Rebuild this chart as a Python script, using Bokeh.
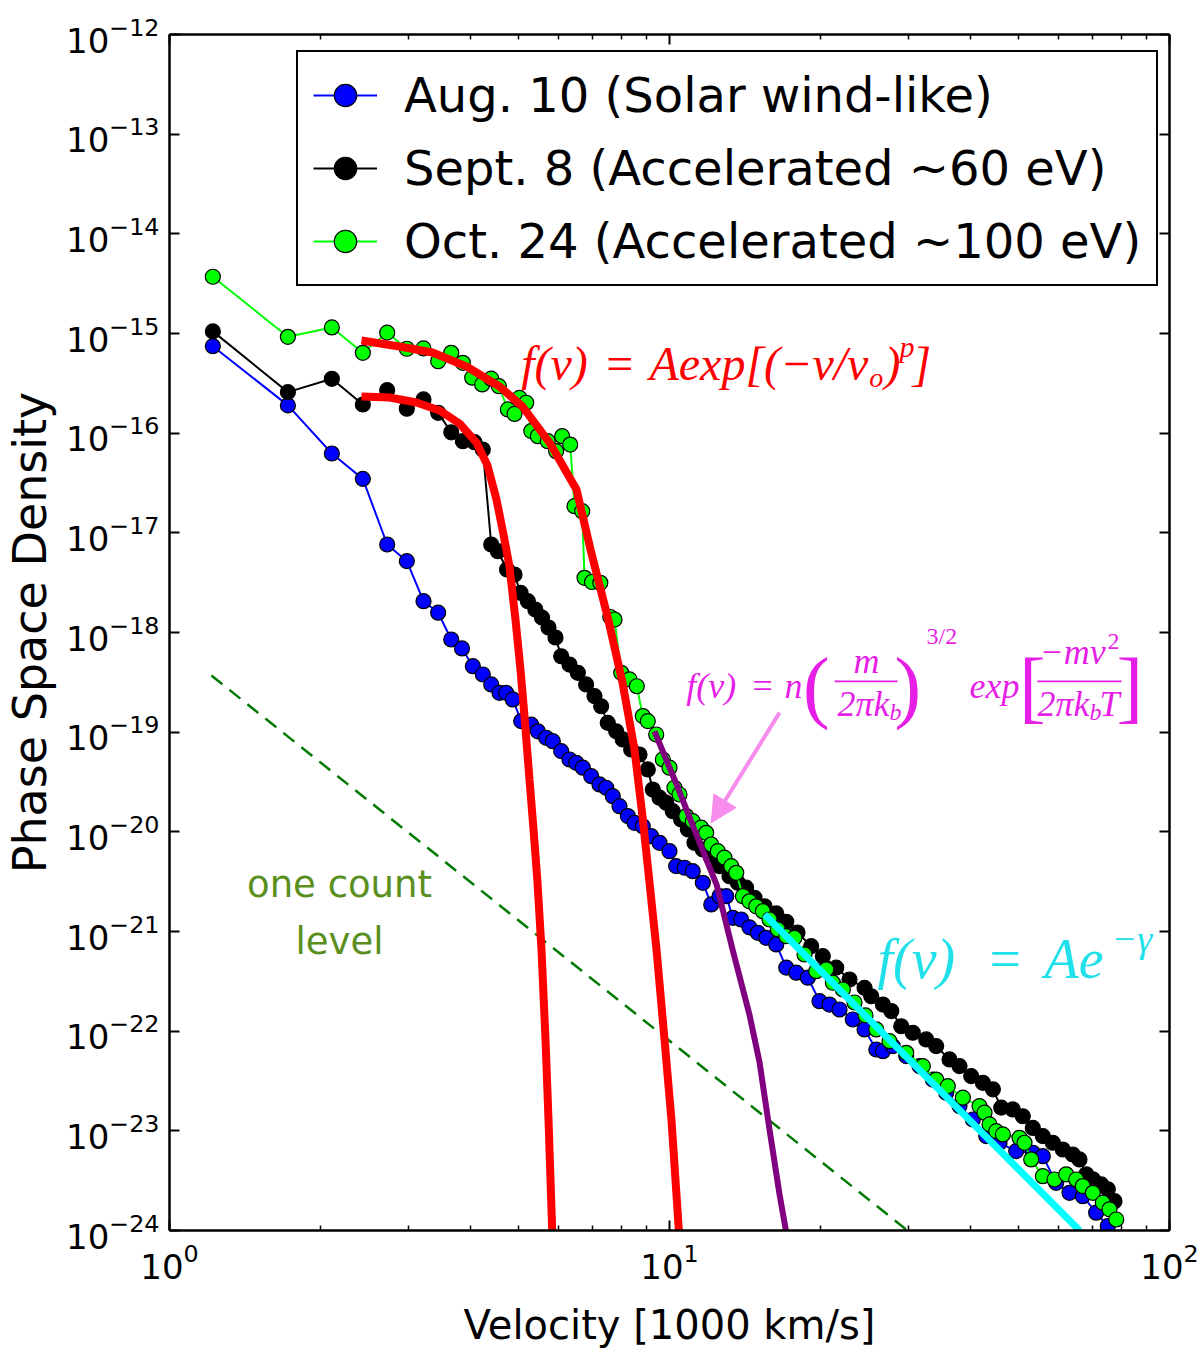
import numpy as np
from bokeh.plotting import figure
from bokeh.models import (Range1d, FixedTicker, LogAxis, Legend, LegendItem,
                          Label, Arrow, NormalHead, BoxAnnotation, CustomJSTickFormatter)
from bokeh.embed import file_html
from bokeh.resources import INLINE

# ---------------- data ----------------
aug_v = [1.221, 1.725, 2.112, 2.436, 2.725, 2.983, 3.221, 3.446, 3.660, 3.846,
         4.043, 4.233, 4.400, 4.571, 4.714, 4.860, 5.051, 5.289, 5.453, 5.668,
         5.843, 6.073, 6.310, 6.508, 6.709, 6.973, 7.244, 7.471, 7.702, 7.943,
         8.254, 8.511, 8.843, 9.192, 9.550, 10.00, 10.31, 10.72, 11.13, 11.66,
         12.12, 12.59, 12.99, 13.39, 13.91, 14.45, 15.02, 15.61, 16.35, 17.12,
         17.93, 18.91, 19.95, 20.89, 21.88, 23.26, 24.55, 25.92, 26.72, 27.97,
         29.75, 31.62, 33.62, 35.76, 38.02, 40.43, 43.00, 45.71, 49.36, 53.29,
         55.80, 59.34, 63.10, 67.08, 71.34, 75.28]
aug_f = [7.46e-16, 1.90e-16, 6.25e-17, 3.48e-17, 7.64e-18, 5.20e-18, 2.06e-18, 1.58e-18, 8.51e-19, 6.92e-19,
         4.59e-19, 3.79e-19, 3.01e-19, 2.48e-19, 2.48e-19, 2.13e-19, 1.29e-19, 1.19e-19, 1.02e-19, 8.79e-20,
         8.12e-20, 6.45e-20, 5.32e-20, 4.93e-20, 4.40e-20, 3.62e-20, 2.99e-20, 2.77e-20, 2.28e-20, 1.81e-20,
         1.44e-20, 1.23e-20, 1.14e-20, 9.05e-21, 7.76e-21, 6.40e-21, 4.53e-21, 4.36e-21, 4.03e-21, 3.08e-21,
         1.87e-21, 2.26e-21, 2.26e-21, 1.37e-21, 1.32e-21, 1.10e-21, 9.70e-22, 8.65e-22, 7.41e-22, 4.34e-22,
         3.86e-22, 3.44e-22, 2.00e-22, 1.85e-22, 1.65e-22, 1.31e-22, 1.04e-22, 6.55e-23, 6.30e-23, 7.08e-23,
         5.62e-23, 4.46e-23, 3.27e-23, 2.41e-23, 1.77e-23, 1.30e-23, 8.85e-24, 7.59e-24, 6.26e-24, 6.03e-24,
         5.57e-24, 3.01e-24, 2.39e-24, 2.21e-24, 1.51e-24, 1.11e-24]

sep_v = [1.221, 1.725, 2.112, 2.436, 2.725, 2.983, 3.221, 3.446, 3.660, 3.861,
         4.074, 4.233, 4.400, 4.536, 4.732, 4.898, 5.035, 5.209, 5.392, 5.559,
         5.728, 5.916, 6.073, 6.310, 6.556, 6.812, 7.079, 7.300, 7.525, 7.823,
         8.064, 8.382, 8.710, 9.049, 9.260, 9.550, 9.849, 10.15, 10.55, 10.88,
         11.22, 11.66, 12.12, 12.59, 13.18, 13.70, 14.23, 14.79, 15.49, 16.35,
         17.12, 18.03, 19.20, 20.26, 21.55, 22.91, 24.55, 25.32, 26.72, 27.77,
         29.07, 30.66, 32.62, 34.15, 36.31, 38.02, 40.12, 42.34, 44.34, 46.08,
         48.60, 50.89, 53.29, 55.80, 58.43, 61.18, 64.06, 66.07, 68.15, 70.26,
         73.03, 75.28, 77.62]
sep_f = [1.05e-15, 2.58e-16, 3.51e-16, 1.94e-16, 2.70e-16, 1.76e-16, 2.18e-16, 1.60e-16, 1.02e-16, 8.31e-17,
         8.12e-17, 6.86e-17, 7.64e-18, 6.55e-18, 4.29e-18, 3.82e-18, 2.50e-18, 2.06e-18, 1.70e-18, 1.41e-18,
         1.12e-18, 8.91e-19, 5.78e-19, 4.77e-19, 3.94e-19, 3.01e-19, 2.30e-19, 1.82e-19, 1.24e-19, 1.02e-19,
         8.45e-20, 6.70e-20, 5.97e-20, 4.23e-20, 2.66e-20, 2.20e-20, 1.96e-20, 1.61e-20, 1.33e-20, 1.06e-20,
         7.76e-21, 6.65e-21, 5.50e-21, 4.53e-21, 3.59e-21, 3.08e-21, 2.75e-21, 2.18e-21, 1.79e-21, 1.52e-21,
         1.25e-21, 9.77e-22, 7.13e-22, 5.65e-22, 4.34e-22, 3.30e-22, 2.72e-22, 2.24e-22, 1.85e-22, 1.59e-22,
         1.12e-22, 9.64e-23, 8.26e-23, 7.08e-23, 5.20e-23, 4.46e-23, 3.54e-23, 3.03e-23, 2.61e-23, 1.71e-23,
         1.64e-23, 1.40e-23, 1.07e-23, 8.85e-24, 7.59e-24, 6.50e-24, 5.79e-24, 5.16e-24, 3.66e-24, 3.26e-24,
         2.90e-24, 2.59e-24, 1.97e-24]

oct_v = [1.221, 1.725, 2.112, 2.436, 2.725, 2.983, 3.221, 3.446, 3.660, 3.861,
         4.031, 4.220, 4.400, 4.557, 4.750, 4.898, 5.012, 5.169, 5.291, 5.453,
         5.708, 5.933, 6.100, 6.330, 6.457, 6.689, 6.761, 6.998, 7.272, 7.614,
         7.762, 8.008, 8.318, 8.602, 8.843, 9.049, 9.406, 9.697, 10.00, 10.23,
         10.47, 10.80, 11.13, 11.57, 11.84, 12.12, 12.49, 12.88, 13.29, 13.60,
         14.02, 14.45, 14.91, 15.37, 15.85, 16.47, 17.12, 17.78, 18.62, 19.65,
         20.58, 21.22, 22.22, 23.44, 24.66, 25.92, 27.54, 29.75, 32.11, 34.15,
         36.03, 38.61, 41.69, 42.66, 43.65, 45.03, 46.42, 50.12, 51.29, 52.89,
         55.80, 58.88, 62.14, 65.08, 67.08, 70.26, 73.55, 75.86, 78.25]
oct_f = [3.71e-15, 9.27e-16, 1.15e-15, 6.40e-16, 1.02e-15, 7.03e-16, 7.08e-16, 5.27e-16, 6.40e-16, 5.08e-16,
         3.60e-16, 3.08e-16, 3.52e-16, 2.96e-16, 1.73e-16, 1.56e-16, 2.26e-16, 2.02e-16, 1.05e-16, 9.33e-17,
         8.31e-17, 6.59e-17, 9.33e-17, 7.69e-17, 1.85e-17, 1.65e-17, 3.54e-18, 3.21e-18, 3.15e-18, 1.43e-18,
         1.35e-18, 3.94e-19, 3.38e-19, 2.89e-19, 1.45e-19, 1.29e-19, 9.48e-20, 5.32e-20, 4.40e-20, 2.77e-20,
         2.37e-20, 1.44e-20, 1.28e-20, 1.10e-20, 9.77e-21, 7.46e-21, 6.40e-21, 5.50e-21, 4.53e-21, 3.88e-21,
         2.26e-21, 2.01e-21, 1.79e-21, 1.60e-21, 1.32e-21, 1.05e-21, 8.97e-22, 8.65e-22, 5.89e-22, 4.00e-22,
         4.16e-22, 3.06e-22, 2.62e-22, 1.94e-22, 1.44e-22, 1.04e-22, 7.94e-23, 6.07e-23, 4.46e-23, 3.27e-23,
         2.81e-23, 2.15e-23, 1.77e-23, 1.52e-23, 1.16e-23, 9.93e-24, 9.20e-24, 8.51e-24, 7.59e-24, 5.16e-24,
         3.51e-24, 3.25e-24, 3.66e-24, 3.25e-24, 2.79e-24, 2.39e-24, 1.90e-24, 1.63e-24, 1.29e-24]

# fitted curves
fit_sep_v = [2.421, 2.754, 3.119, 3.467, 3.802, 4.111, 4.325, 4.508, 4.656, 4.786,
             4.920, 5.035, 5.129, 5.248, 5.346, 5.445, 5.546, 5.649, 5.728, 5.834]
fit_sep_f = [2.33e-16, 2.28e-16, 2.03e-16, 1.69e-16, 1.25e-16, 8.05e-17, 4.74e-17, 2.16e-17, 9.62e-18, 4.59e-18,
             1.35e-18, 4.25e-19, 1.44e-19, 3.35e-20, 1.06e-20, 3.10e-21, 6.61e-22, 8.26e-23, 1.30e-23, 8.13e-25]
fit_oct_v = [2.421, 2.884, 3.357, 3.926, 4.571, 5.082, 5.754, 6.516, 6.950, 7.516,
             8.054, 8.511, 8.831, 9.120, 9.419, 9.772, 10.09, 10.47]
fit_oct_f = [8.51e-16, 7.41e-16, 6.45e-16, 4.67e-16, 2.94e-16, 1.85e-16, 8.05e-17, 2.72e-17, 6.81e-18, 1.45e-18,
             3.15e-19, 6.70e-20, 1.43e-20, 3.10e-21, 6.61e-22, 8.26e-23, 1.30e-23, 8.13e-25]
maxw_v = [9.333, 10.33, 11.48, 12.42, 13.37, 14.45, 15.14, 15.85, 16.60, 17.22]
maxw_f = [1.02e-19, 2.99e-20, 7.82e-21, 2.96e-21, 6.61e-22, 1.47e-22, 4.85e-23, 1.03e-23, 2.30e-24, 8.13e-25]
power_v = [15.49, 66.07]
power_f = [1.48e-21, 1.0e-24]
count_v = [1.213, 30.2]
count_f = [3.7e-19, 9.63e-25]

labels = ["Aug. 10 (Solar wind-like)", "Sept. 8 (Accelerated ~60 eV)", "Oct. 24 (Accelerated ~100 eV)"]
x_major = [1, 10, 100]
x_minor = [2, 3, 4, 5, 6, 7, 8, 9, 20, 30, 40, 50, 60, 70, 80, 90]
y_major = [1e-24, 1e-23, 1e-22, 1e-21, 1e-20, 1e-19, 1e-18, 1e-17, 1e-16, 1e-15, 1e-14, 1e-13, 1e-12]

BLUE, BLACK, GREEN = "#0000ff", "#000000", "#00ff00"
RED, PURPLE, CYAN = "#ff0000", "#800080", "#00ffff"
MAGENTA, PINK = "#e61ee6", "#f78cec"

# ---------------- figure ----------------
p = figure(x_axis_type="log", y_axis_type="log",
           x_range=Range1d(1, 100), y_range=Range1d(1e-24, 1e-12),
           frame_width=1000, frame_height=1196,
           min_border_left=162, min_border_right=30, min_border_top=34, min_border_bottom=117,
           output_backend="svg", toolbar_location=None,
           background_fill_color="white", border_fill_color="white")
p.grid.visible = False
p.outline_line_color = None

def style_axis(ax, show_labels, minor):
    ax.axis_line_color = "black"
    ax.axis_line_width = 2.5
    ax.major_tick_line_color = "black"
    ax.major_tick_line_width = 2
    ax.major_tick_in = 10
    ax.major_tick_out = 0
    if minor:
        ax.minor_tick_line_color = "black"
        ax.minor_tick_line_width = 1.5
        ax.minor_tick_in = 5
        ax.minor_tick_out = 0
    else:
        ax.minor_tick_line_color = None
    ax.major_label_text_font = "DejaVu Sans"
    ax.major_label_text_color = "black"
    if show_labels:
        ax.major_label_text_font_size = "34px"
    else:
        ax.formatter = CustomJSTickFormatter(code="return ''")
        ax.major_label_text_font_size = "2px"
        ax.major_label_standoff = 0

xa = p.xaxis[0]
ya = p.yaxis[0]
xa.ticker = FixedTicker(ticks=x_major, minor_ticks=x_minor)
ya.ticker = FixedTicker(ticks=y_major)
style_axis(xa, True, True)
style_axis(ya, True, False)
xa.major_label_standoff = 12
ya.major_label_standoff = 10

xa.axis_label = "Velocity [1000 km/s]"
xa.axis_label_text_font = "DejaVu Sans"
xa.axis_label_text_font_size = "40px"
xa.axis_label_text_font_style = "normal"
xa.axis_label_text_color = "black"
xa.axis_label_standoff = 20
ya.axis_label = "Phase Space Density"
ya.axis_label_text_font = "DejaVu Sans"
ya.axis_label_text_font_size = "46px"
ya.axis_label_text_font_style = "normal"
ya.axis_label_text_color = "black"
ya.axis_label_standoff = 6

top = LogAxis(ticker=FixedTicker(ticks=x_major, minor_ticks=x_minor))
right = LogAxis(ticker=FixedTicker(ticks=y_major))
style_axis(top, False, True)
style_axis(right, False, False)
p.add_layout(top, "above")
p.add_layout(right, "right")

# ---------------- data series ----------------
items = []
for v, f, col, lab in [(aug_v, aug_f, BLUE, labels[0]),
                       (sep_v, sep_f, BLACK, labels[1]),
                       (oct_v, oct_f, GREEN, labels[2])]:
    ln = p.line(v, f, line_color=col, line_width=2)
    sc = p.scatter(v, f, marker="circle", size=15, fill_color=col,
                   line_color="black", line_width=1.2)
    items.append(LegendItem(label=lab, renderers=[ln, sc]))

# one count level
p.line(count_v, count_f, line_color="#007a00", line_width=2.5, line_dash="14 9")

# fits
p.line(fit_sep_v, fit_sep_f, line_color=RED, line_width=8)
p.line(fit_oct_v, fit_oct_f, line_color=RED, line_width=8)
p.line(maxw_v, maxw_f, line_color=PURPLE, line_width=6)
p.line(power_v, power_f, line_color=CYAN, line_width=7)

# ---------------- legend ----------------
legend = Legend(items=items, location=(127, 944), orientation="vertical",
                label_text_font="DejaVu Sans", label_text_font_size="48px",
                label_text_color="black",
                glyph_width=64, glyph_height=56, label_height=56, label_standoff=27,
                spacing=17, padding=15, margin=0,
                border_line_color="black", border_line_width=2.5, border_line_alpha=1.0,
                background_fill_color="white", background_fill_alpha=1.0)
p.add_layout(legend)

# ---------------- annotations ----------------
def txt(x, y, s, size, color, style="italic", font="Liberation Serif", align="left"):
    p.add_layout(Label(x=x, y=y, text=s, text_font=font, text_font_size=f"{size}px",
                       text_font_style=style, text_color=color, text_align=align,
                       text_baseline="middle"))

def bar(x0, x1, y0, y1, color):
    p.add_layout(BoxAnnotation(left=x0, right=x1, bottom=y0, top=y1,
                               fill_color=color, fill_alpha=1.0, line_color=None,
                               level="annotation"))

# stretched-exponential formula (red)
txt(5.05, 5.0e-16, "f(v)", 48, RED)
txt(7.47, 5.0e-16, "=", 48, RED, style="normal")
txt(9.12, 5.0e-16, "Aexp[(\u2212v/v", 48, RED)
txt(25.1, 3.6e-16, "o", 28, RED)
txt(26.9, 5.0e-16, ")", 48, RED)
txt(28.84, 7.4e-16, "p", 30, RED)
txt(30.62, 5.0e-16, "]", 48, RED)

# Maxwellian formula (magenta)
ym = 2.89e-19
txt(10.80, ym, "f(v)", 36, MAGENTA)
txt(14.66, ym, "=", 36, MAGENTA, style="normal")
txt(16.98, ym, "n", 36, MAGENTA)
txt(18.5, ym, "(", 80, MAGENTA, style="normal")
txt(24.77, 5.12e-19, "m", 36, MAGENTA, align="center")
bar(21.38, 28.58, 3.16e-19, 3.30e-19, MAGENTA)
txt(21.68, 1.90e-19, "2\u03c0k", 36, MAGENTA)
txt(27.54, 1.61e-19, "b", 24, MAGENTA)
txt(28.2, ym, ")", 80, MAGENTA, style="normal")
txt(32.66, 9.12e-19, "3/2", 24, MAGENTA, style="normal")
txt(39.81, ym, "exp", 36, MAGENTA)
txt(50.0, ym, "[", 80, MAGENTA, style="normal")
txt(54.95, 6.31e-19, "\u2212mv", 36, MAGENTA)
txt(75.16, 8.13e-19, "2", 24, MAGENTA, style="normal")
bar(54.45, 80.17, 3.16e-19, 3.30e-19, MAGENTA)
txt(54.45, 1.90e-19, "2\u03c0k", 36, MAGENTA)
txt(69.18, 1.61e-19, "b", 24, MAGENTA)
txt(72.44, 1.90e-19, "T", 36, MAGENTA)
txt(78.3, ym, "]", 80, MAGENTA, style="normal")

# power-law formula (cyan)
txt(26.06, 5.24e-22, "f(v)", 56, "#20e0ea")
txt(43.65, 5.24e-22, "=", 56, "#20e0ea", style="normal")
txt(56.23, 5.24e-22, "Ae", 56, "#20e0ea")
txt(76.56, 8.32e-22, "\u2212\u03b3", 38, "#20e0ea")

# one count level
txt(2.188, 2.96e-21, "one count", 37, "#5a8f1e", style="normal", font="DejaVu Sans", align="center")
txt(2.188, 7.94e-22, "level", 37, "#5a8f1e", style="normal", font="DejaVu Sans", align="center")

# arrow pointing at the Maxwellian
p.add_layout(Arrow(end=NormalHead(size=26, fill_color=PINK, line_color=PINK),
                   x_start=16.6, y_start=1.57e-19, x_end=12.12, y_end=1.23e-20,
                   line_color=PINK, line_width=4))

open("out.html", "w").write(file_html(p, INLINE, title="Phase Space Density"))
